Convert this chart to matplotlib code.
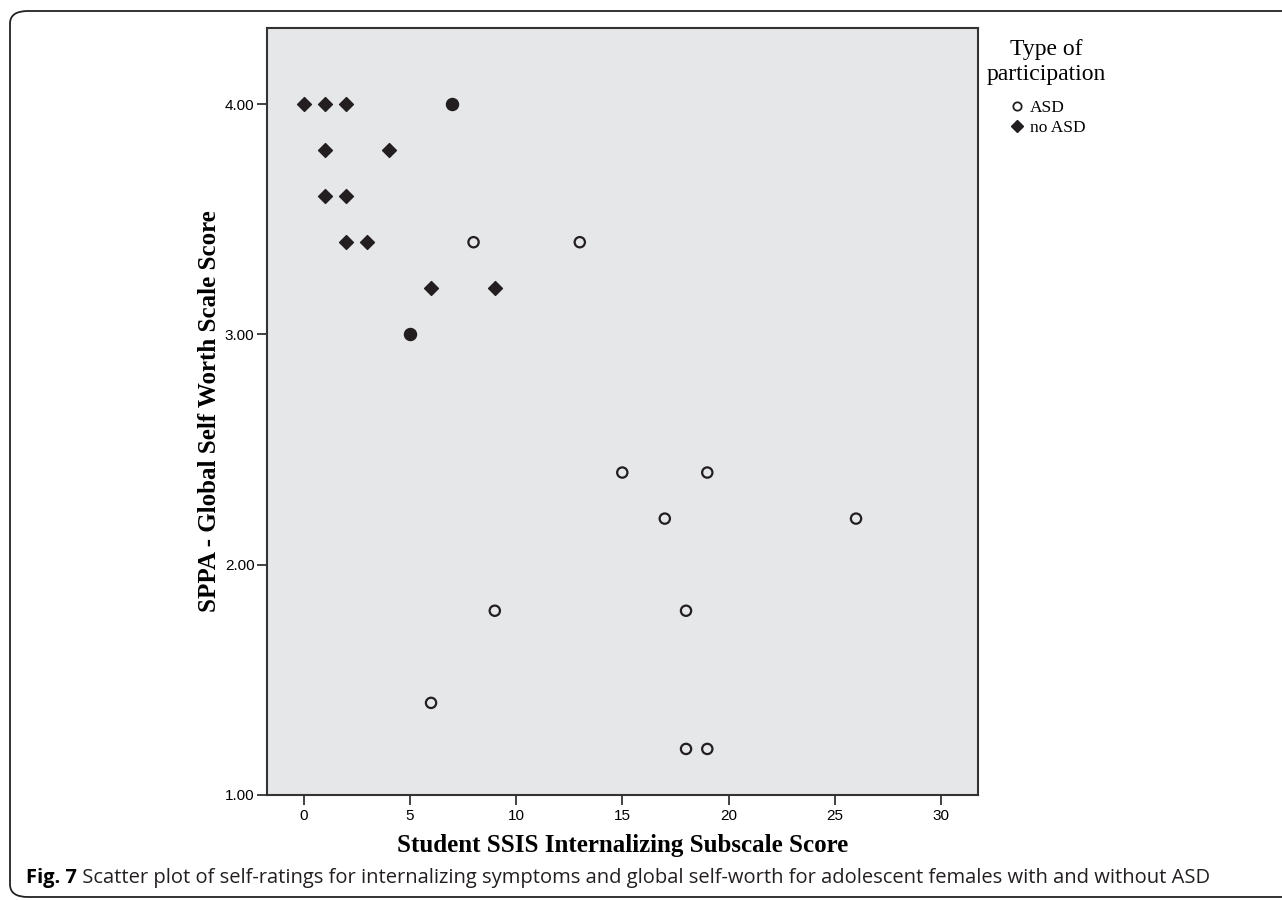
import matplotlib.pyplot as plt
import numpy as np
from matplotlib.patches import FancyBboxPatch
from matplotlib.lines import Line2D

# ASD participants (open circles)
asd_x = [8, 13, 15, 19, 17, 26, 9, 18, 6, 18, 19]
asd_y = [3.4, 3.4, 2.4, 2.4, 2.2, 2.2, 1.8, 1.8, 1.4, 1.2, 1.2]

# no ASD participants (filled diamonds)
noasd_x = [0, 1, 2, 1, 4, 1, 2, 2, 3, 6, 9]
noasd_y = [4.0, 4.0, 4.0, 3.8, 3.8, 3.6, 3.6, 3.4, 3.4, 3.2, 3.2]

# points where both groups overlap (drawn as filled circles)
both_x = [7, 5]
both_y = [4.0, 3.0]

x_ticks = [0, 5, 10, 15, 20, 25, 30]
y_ticks = [1.0, 2.0, 3.0, 4.0]

serif = ['Liberation Serif', 'DejaVu Serif']
tickfont = ['Liberation Sans', 'DejaVu Sans']
capfont = ['Open Sans', 'DejaVu Sans']
ink = '#231f20'

fig = plt.figure(figsize=(12.82, 9), dpi=100)
fig.patch.set_facecolor('white')

# rounded frame around the figure
frame = FancyBboxPatch((10 / 1282, 3 / 900), 1300 / 1282, 886 / 900,
                       boxstyle='round,pad=0,rounding_size=0.014',
                       transform=fig.transFigure, fill=False,
                       edgecolor='#222222', linewidth=1.3, clip_on=False)
fig.patches.append(frame)

ax = fig.add_axes([267 / 1282, 105 / 900, 711 / 1282, 767 / 900])
ax.set_facecolor('#e6e7e9')

ax.scatter(noasd_x, noasd_y, marker='D', s=50, color=ink, zorder=3)
ax.scatter(both_x, both_y, marker='o', s=75, color=ink, zorder=3)
ax.scatter(asd_x, asd_y, marker='o', s=55, facecolor='none',
           edgecolor=ink, linewidth=1.6, zorder=3)

ax.set_xlim(-1.72, 31.74)
ax.set_ylim(1.0, 4.33)
ax.set_xticks(x_ticks)
ax.set_yticks(y_ticks)
ax.set_xticklabels([str(t) for t in x_ticks], family=tickfont, fontsize=11)
ax.set_yticklabels(['%.2f' % t for t in y_ticks], family=tickfont, fontsize=11)
ax.tick_params(direction='out', length=7, width=1.3, color='#333333')
ax.tick_params(axis='x', pad=3)
ax.tick_params(axis='y', pad=2)

for s in ax.spines.values():
    s.set_linewidth(1.5)
    s.set_color('#333333')

ax.set_xlabel('Student SSIS Internalizing Subscale Score', family=serif,
              fontweight='bold', fontsize=18, labelpad=8)
ax.set_ylabel('SPPA - Global Self Worth Scale Score', family=serif,
              fontweight='bold', fontsize=18, labelpad=3)

# legend: title as its own text, items below it
fig.text(1046 / 1282, 1 - 62 / 900, 'Type of\nparticipation', family=serif,
         fontsize=17, ha='center', va='center', multialignment='center',
         linespacing=1.25)
handles = [
    Line2D([], [], marker='o', linestyle='none', markersize=6,
           markerfacecolor='none', markeredgecolor=ink, markeredgewidth=1.3),
    Line2D([], [], marker='D', linestyle='none', markersize=6, color=ink),
]
fig.legend(handles, ['ASD', 'no ASD'], loc='upper left',
           bbox_to_anchor=(1001 / 1282, 1 - 91 / 900), frameon=False,
           prop={'family': serif, 'size': 12.5}, borderpad=0,
           handlelength=0.9, handletextpad=0.25, labelspacing=0.22)

# caption: bold "Fig. 7" followed by the regular text
fig_lbl = fig.text(26 / 1282, 1 - 878 / 900, 'Fig. 7', fontsize=14.5,
                   family=capfont, fontweight='bold', va='center')
ax.annotate(' Scatter plot of self-ratings for internalizing symptoms and '
            'global self-worth for adolescent females with and without ASD',
            xy=(1, 0.5), xycoords=fig_lbl, va='center', ha='left',
            fontsize=14.5, family=capfont, color=ink, annotation_clip=False)

fig.savefig('out.png', dpi=100)
